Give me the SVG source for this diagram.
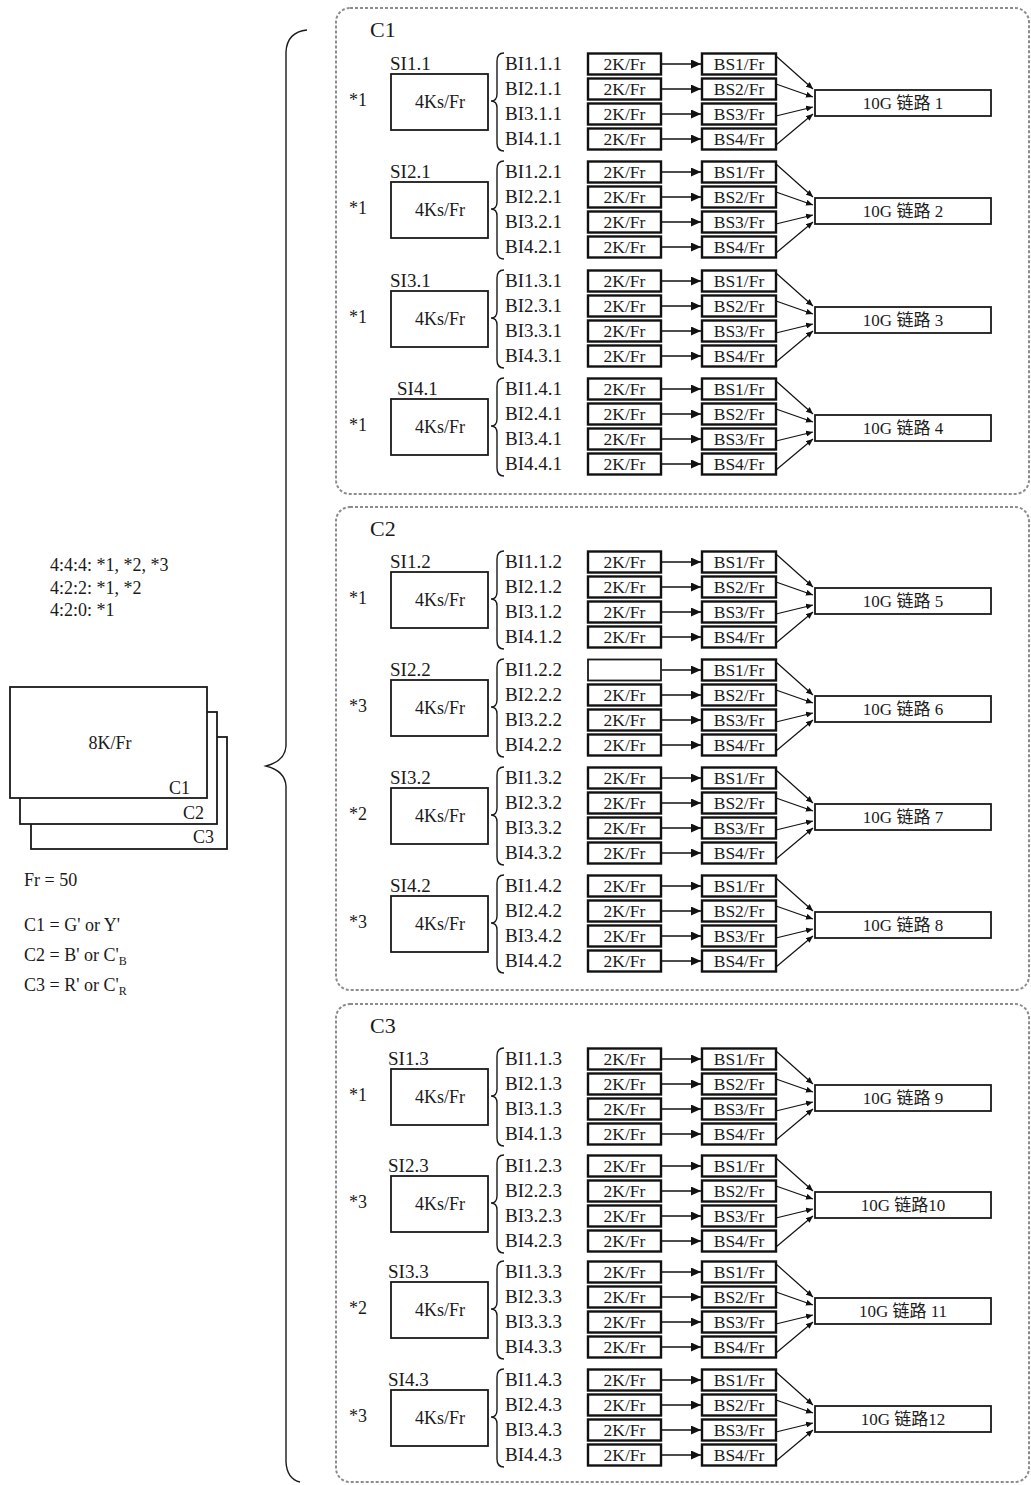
<svg xmlns="http://www.w3.org/2000/svg" xmlns:xlink="http://www.w3.org/1999/xlink" width="1031" height="1485" viewBox="0 0 1031 1485">
<style>
text{font-family:"Liberation Serif","Noto Sans CJK SC",serif;fill:#1a1a1a}
.lb{font-size:19px}
.st{font-size:18px}
.t4{font-size:18px;text-anchor:middle}
.t2{font-size:17.5px;text-anchor:middle}
.tl{font-size:17px;text-anchor:middle}
.ti{font-size:22px}
.bx{fill:#fff;stroke:#1a1a1a;stroke-width:1.8}
.bk{fill:#fff;stroke:#111;stroke-width:2.4}
.br{fill:none;stroke:#1a1a1a;stroke-width:1.4}
.pn{fill:none;stroke:#8c8c8c;stroke-width:2;stroke-dasharray:3 2}
.ar{stroke:#111;stroke-width:1.6;fill:none}
.cv{stroke:#111;stroke-width:1.2;fill:none}
</style>
<defs>
<marker id="ah" markerUnits="userSpaceOnUse" markerWidth="10" markerHeight="9" refX="10" refY="4.5" orient="auto"><path d="M0,0 L10,4.5 L0,9 z" fill="#111"/></marker>
<marker id="as" markerUnits="userSpaceOnUse" markerWidth="7" markerHeight="6" refX="7" refY="3" orient="auto"><path d="M0,0 L7,3 L0,6 z" fill="#111"/></marker>
<g id="conn">
<line class="ar" x1="662" y1="0" x2="701" y2="0" marker-end="url(#ah)"/>
<line class="ar" x1="662" y1="25" x2="701" y2="25" marker-end="url(#ah)"/>
<line class="ar" x1="662" y1="50" x2="701" y2="50" marker-end="url(#ah)"/>
<line class="ar" x1="662" y1="75" x2="701" y2="75" marker-end="url(#ah)"/>
<line class="cv" x1="776" y1="-8" x2="813" y2="25" marker-end="url(#as)"/>
<line class="cv" x1="776" y1="20" x2="813" y2="33" marker-end="url(#as)"/>
<line class="cv" x1="776" y1="52" x2="813" y2="43" marker-end="url(#as)"/>
<line class="cv" x1="776" y1="81" x2="813" y2="50" marker-end="url(#as)"/>
</g>
<path id="rbr" class="br" d="M504,-11 Q497,-11 497,-3 L497,30 Q497,37 491,37 Q497,37 497,44 L497,79 Q497,87 504,87"/>
</defs>
<rect width="1031" height="1485" fill="#fff"/>

<g id="legend">
<text class="st" x="50" y="571">4:4:4: *1, *2, *3</text>
<text class="st" x="50" y="594">4:2:2: *1, *2</text>
<text class="st" x="50" y="616">4:2:0: *1</text>
</g>
<g id="frame-stack">
<rect class="bx" x="31" y="737" width="196" height="112"/>
<rect class="bx" x="20" y="712" width="197" height="112"/>
<rect class="bx" x="10" y="687" width="197" height="111"/>
<text class="st" x="110" y="749" text-anchor="middle">8K/Fr</text>
<text class="st" x="190" y="794" text-anchor="end">C1</text>
<text class="st" x="204" y="819" text-anchor="end">C2</text>
<text class="st" x="214" y="843" text-anchor="end">C3</text>
</g>
<g id="notes">
<text class="st" x="24" y="886">Fr = 50</text>
<text class="st" x="24" y="931">C1 = G' or Y'</text>
<text class="st" x="24" y="961">C2 = B' or C'<tspan font-size="12" dy="4">B</tspan></text>
<text class="st" x="24" y="991">C3 = R' or C'<tspan font-size="12" dy="4">R</tspan></text>
</g>
<path id="big-brace" class="br" d="M307,30 Q287,32 286,52 L286,746 Q285,761 266,766 Q285,771 286,786 L286,1462 Q287,1479 300,1482"/>

<g id="panels">
<rect id="panel-c1" class="pn" x="336" y="8" width="693" height="486" rx="14"/>
<rect id="panel-c2" class="pn" x="336" y="507" width="693" height="483" rx="14"/>
<rect id="panel-c3" class="pn" x="336" y="1004" width="693" height="478" rx="14"/>
<text class="ti" x="370" y="37">C1</text>
<text class="ti" x="370" y="536">C2</text>
<text class="ti" x="370" y="1033">C3</text>
</g>

<g id="connectors">
<use xlink:href="#conn" y="64"/>
<use xlink:href="#conn" y="172"/>
<use xlink:href="#conn" y="281"/>
<use xlink:href="#conn" y="389"/>
<use xlink:href="#conn" y="562"/>
<use xlink:href="#conn" y="670"/>
<use xlink:href="#conn" y="778"/>
<use xlink:href="#conn" y="886"/>
<use xlink:href="#conn" y="1059"/>
<use xlink:href="#conn" y="1166"/>
<use xlink:href="#conn" y="1272"/>
<use xlink:href="#conn" y="1380"/>
</g>

<!-- ROW 1 -->
<g id="row1" transform="translate(0,64)">
<text class="st" x="349" y="42">*1</text>
<g id="si11"><text class="lb" x="390" y="6">SI1.1</text><rect class="bx" x="391" y="10" width="97" height="56"/><text class="t4" x="440" y="44">4Ks/Fr</text></g>
<use xlink:href="#rbr"/>
<text class="lb" x="505" y="6">BI1.1.1</text><text class="lb" x="505" y="31">BI2.1.1</text><text class="lb" x="505" y="56">BI3.1.1</text><text class="lb" x="505" y="81">BI4.1.1</text>
<g id="k1a"><rect class="bk" x="588" y="-10.5" width="73" height="21"/><text class="t2" x="624.5" y="6">2K/Fr</text></g>
<g id="k1b"><rect class="bk" x="588" y="14.5" width="73" height="21"/><text class="t2" x="624.5" y="31">2K/Fr</text></g>
<g id="k1c"><rect class="bk" x="588" y="39.5" width="73" height="21"/><text class="t2" x="624.5" y="56">2K/Fr</text></g>
<g id="k1d"><rect class="bk" x="588" y="64.5" width="73" height="21"/><text class="t2" x="624.5" y="81">2K/Fr</text></g>
<g id="s1a"><rect class="bk" x="702" y="-10.5" width="74" height="21"/><text class="t2" x="739" y="6">BS1/Fr</text></g>
<g id="s1b"><rect class="bk" x="702" y="14.5" width="74" height="21"/><text class="t2" x="739" y="31">BS2/Fr</text></g>
<g id="s1c"><rect class="bk" x="702" y="39.5" width="74" height="21"/><text class="t2" x="739" y="56">BS3/Fr</text></g>
<g id="s1d"><rect class="bk" x="702" y="64.5" width="74" height="21"/><text class="t2" x="739" y="81">BS4/Fr</text></g>
<g id="link1"><rect class="bx" x="815" y="26" width="176" height="26"/><text class="tl" x="903" y="45">10G 链路 1</text></g>
</g>

<!-- ROW 2 -->
<g id="row2" transform="translate(0,172)">
<text class="st" x="349" y="42">*1</text>
<g id="si21"><text class="lb" x="390" y="6">SI2.1</text><rect class="bx" x="391" y="10" width="97" height="56"/><text class="t4" x="440" y="44">4Ks/Fr</text></g>
<use xlink:href="#rbr"/>
<text class="lb" x="505" y="6">BI1.2.1</text><text class="lb" x="505" y="31">BI2.2.1</text><text class="lb" x="505" y="56">BI3.2.1</text><text class="lb" x="505" y="81">BI4.2.1</text>
<g id="k2a"><rect class="bk" x="588" y="-10.5" width="73" height="21"/><text class="t2" x="624.5" y="6">2K/Fr</text></g>
<g id="k2b"><rect class="bk" x="588" y="14.5" width="73" height="21"/><text class="t2" x="624.5" y="31">2K/Fr</text></g>
<g id="k2c"><rect class="bk" x="588" y="39.5" width="73" height="21"/><text class="t2" x="624.5" y="56">2K/Fr</text></g>
<g id="k2d"><rect class="bk" x="588" y="64.5" width="73" height="21"/><text class="t2" x="624.5" y="81">2K/Fr</text></g>
<g id="s2a"><rect class="bk" x="702" y="-10.5" width="74" height="21"/><text class="t2" x="739" y="6">BS1/Fr</text></g>
<g id="s2b"><rect class="bk" x="702" y="14.5" width="74" height="21"/><text class="t2" x="739" y="31">BS2/Fr</text></g>
<g id="s2c"><rect class="bk" x="702" y="39.5" width="74" height="21"/><text class="t2" x="739" y="56">BS3/Fr</text></g>
<g id="s2d"><rect class="bk" x="702" y="64.5" width="74" height="21"/><text class="t2" x="739" y="81">BS4/Fr</text></g>
<g id="link2"><rect class="bx" x="815" y="26" width="176" height="26"/><text class="tl" x="903" y="45">10G 链路 2</text></g>
</g>

<!-- ROW 3 -->
<g id="row3" transform="translate(0,281)">
<text class="st" x="349" y="42">*1</text>
<g id="si31"><text class="lb" x="390" y="6">SI3.1</text><rect class="bx" x="391" y="10" width="97" height="56"/><text class="t4" x="440" y="44">4Ks/Fr</text></g>
<use xlink:href="#rbr"/>
<text class="lb" x="505" y="6">BI1.3.1</text><text class="lb" x="505" y="31">BI2.3.1</text><text class="lb" x="505" y="56">BI3.3.1</text><text class="lb" x="505" y="81">BI4.3.1</text>
<g id="k3a"><rect class="bk" x="588" y="-10.5" width="73" height="21"/><text class="t2" x="624.5" y="6">2K/Fr</text></g>
<g id="k3b"><rect class="bk" x="588" y="14.5" width="73" height="21"/><text class="t2" x="624.5" y="31">2K/Fr</text></g>
<g id="k3c"><rect class="bk" x="588" y="39.5" width="73" height="21"/><text class="t2" x="624.5" y="56">2K/Fr</text></g>
<g id="k3d"><rect class="bk" x="588" y="64.5" width="73" height="21"/><text class="t2" x="624.5" y="81">2K/Fr</text></g>
<g id="s3a"><rect class="bk" x="702" y="-10.5" width="74" height="21"/><text class="t2" x="739" y="6">BS1/Fr</text></g>
<g id="s3b"><rect class="bk" x="702" y="14.5" width="74" height="21"/><text class="t2" x="739" y="31">BS2/Fr</text></g>
<g id="s3c"><rect class="bk" x="702" y="39.5" width="74" height="21"/><text class="t2" x="739" y="56">BS3/Fr</text></g>
<g id="s3d"><rect class="bk" x="702" y="64.5" width="74" height="21"/><text class="t2" x="739" y="81">BS4/Fr</text></g>
<g id="link3"><rect class="bx" x="815" y="26" width="176" height="26"/><text class="tl" x="903" y="45">10G 链路 3</text></g>
</g>

<!-- ROW 4 -->
<g id="row4" transform="translate(0,389)">
<text class="st" x="349" y="42">*1</text>
<g id="si41"><text class="lb" x="397" y="6">SI4.1</text><rect class="bx" x="391" y="10" width="97" height="56"/><text class="t4" x="440" y="44">4Ks/Fr</text></g>
<use xlink:href="#rbr"/>
<text class="lb" x="505" y="6">BI1.4.1</text><text class="lb" x="505" y="31">BI2.4.1</text><text class="lb" x="505" y="56">BI3.4.1</text><text class="lb" x="505" y="81">BI4.4.1</text>
<g id="k4a"><rect class="bk" x="588" y="-10.5" width="73" height="21"/><text class="t2" x="624.5" y="6">2K/Fr</text></g>
<g id="k4b"><rect class="bk" x="588" y="14.5" width="73" height="21"/><text class="t2" x="624.5" y="31">2K/Fr</text></g>
<g id="k4c"><rect class="bk" x="588" y="39.5" width="73" height="21"/><text class="t2" x="624.5" y="56">2K/Fr</text></g>
<g id="k4d"><rect class="bk" x="588" y="64.5" width="73" height="21"/><text class="t2" x="624.5" y="81">2K/Fr</text></g>
<g id="s4a"><rect class="bk" x="702" y="-10.5" width="74" height="21"/><text class="t2" x="739" y="6">BS1/Fr</text></g>
<g id="s4b"><rect class="bk" x="702" y="14.5" width="74" height="21"/><text class="t2" x="739" y="31">BS2/Fr</text></g>
<g id="s4c"><rect class="bk" x="702" y="39.5" width="74" height="21"/><text class="t2" x="739" y="56">BS3/Fr</text></g>
<g id="s4d"><rect class="bk" x="702" y="64.5" width="74" height="21"/><text class="t2" x="739" y="81">BS4/Fr</text></g>
<g id="link4"><rect class="bx" x="815" y="26" width="176" height="26"/><text class="tl" x="903" y="45">10G 链路 4</text></g>
</g>

<!-- ROW 5 -->
<g id="row5" transform="translate(0,562)">
<text class="st" x="349" y="42">*1</text>
<g id="si12"><text class="lb" x="390" y="6">SI1.2</text><rect class="bx" x="391" y="10" width="97" height="56"/><text class="t4" x="440" y="44">4Ks/Fr</text></g>
<use xlink:href="#rbr"/>
<text class="lb" x="505" y="6">BI1.1.2</text><text class="lb" x="505" y="31">BI2.1.2</text><text class="lb" x="505" y="56">BI3.1.2</text><text class="lb" x="505" y="81">BI4.1.2</text>
<g id="k5a"><rect class="bk" x="588" y="-10.5" width="73" height="21"/><text class="t2" x="624.5" y="6">2K/Fr</text></g>
<g id="k5b"><rect class="bk" x="588" y="14.5" width="73" height="21"/><text class="t2" x="624.5" y="31">2K/Fr</text></g>
<g id="k5c"><rect class="bk" x="588" y="39.5" width="73" height="21"/><text class="t2" x="624.5" y="56">2K/Fr</text></g>
<g id="k5d"><rect class="bk" x="588" y="64.5" width="73" height="21"/><text class="t2" x="624.5" y="81">2K/Fr</text></g>
<g id="s5a"><rect class="bk" x="702" y="-10.5" width="74" height="21"/><text class="t2" x="739" y="6">BS1/Fr</text></g>
<g id="s5b"><rect class="bk" x="702" y="14.5" width="74" height="21"/><text class="t2" x="739" y="31">BS2/Fr</text></g>
<g id="s5c"><rect class="bk" x="702" y="39.5" width="74" height="21"/><text class="t2" x="739" y="56">BS3/Fr</text></g>
<g id="s5d"><rect class="bk" x="702" y="64.5" width="74" height="21"/><text class="t2" x="739" y="81">BS4/Fr</text></g>
<g id="link5"><rect class="bx" x="815" y="26" width="176" height="26"/><text class="tl" x="903" y="45">10G 链路 5</text></g>
</g>

<!-- ROW 6 -->
<g id="row6" transform="translate(0,670)">
<text class="st" x="349" y="42">*3</text>
<g id="si22"><text class="lb" x="390" y="6">SI2.2</text><rect class="bx" x="391" y="10" width="97" height="56"/><text class="t4" x="440" y="44">4Ks/Fr</text></g>
<use xlink:href="#rbr"/>
<text class="lb" x="505" y="6">BI1.2.2</text><text class="lb" x="505" y="31">BI2.2.2</text><text class="lb" x="505" y="56">BI3.2.2</text><text class="lb" x="505" y="81">BI4.2.2</text>
<g id="k6a"><rect class="bx" x="588" y="-10.5" width="73" height="21"/></g>
<g id="k6b"><rect class="bk" x="588" y="14.5" width="73" height="21"/><text class="t2" x="624.5" y="31">2K/Fr</text></g>
<g id="k6c"><rect class="bk" x="588" y="39.5" width="73" height="21"/><text class="t2" x="624.5" y="56">2K/Fr</text></g>
<g id="k6d"><rect class="bk" x="588" y="64.5" width="73" height="21"/><text class="t2" x="624.5" y="81">2K/Fr</text></g>
<g id="s6a"><rect class="bk" x="702" y="-10.5" width="74" height="21"/><text class="t2" x="739" y="6">BS1/Fr</text></g>
<g id="s6b"><rect class="bk" x="702" y="14.5" width="74" height="21"/><text class="t2" x="739" y="31">BS2/Fr</text></g>
<g id="s6c"><rect class="bk" x="702" y="39.5" width="74" height="21"/><text class="t2" x="739" y="56">BS3/Fr</text></g>
<g id="s6d"><rect class="bk" x="702" y="64.5" width="74" height="21"/><text class="t2" x="739" y="81">BS4/Fr</text></g>
<g id="link6"><rect class="bx" x="815" y="26" width="176" height="26"/><text class="tl" x="903" y="45">10G 链路 6</text></g>
</g>

<!-- ROW 7 -->
<g id="row7" transform="translate(0,778)">
<text class="st" x="349" y="42">*2</text>
<g id="si32"><text class="lb" x="390" y="6">SI3.2</text><rect class="bx" x="391" y="10" width="97" height="56"/><text class="t4" x="440" y="44">4Ks/Fr</text></g>
<use xlink:href="#rbr"/>
<text class="lb" x="505" y="6">BI1.3.2</text><text class="lb" x="505" y="31">BI2.3.2</text><text class="lb" x="505" y="56">BI3.3.2</text><text class="lb" x="505" y="81">BI4.3.2</text>
<g id="k7a"><rect class="bk" x="588" y="-10.5" width="73" height="21"/><text class="t2" x="624.5" y="6">2K/Fr</text></g>
<g id="k7b"><rect class="bk" x="588" y="14.5" width="73" height="21"/><text class="t2" x="624.5" y="31">2K/Fr</text></g>
<g id="k7c"><rect class="bk" x="588" y="39.5" width="73" height="21"/><text class="t2" x="624.5" y="56">2K/Fr</text></g>
<g id="k7d"><rect class="bk" x="588" y="64.5" width="73" height="21"/><text class="t2" x="624.5" y="81">2K/Fr</text></g>
<g id="s7a"><rect class="bk" x="702" y="-10.5" width="74" height="21"/><text class="t2" x="739" y="6">BS1/Fr</text></g>
<g id="s7b"><rect class="bk" x="702" y="14.5" width="74" height="21"/><text class="t2" x="739" y="31">BS2/Fr</text></g>
<g id="s7c"><rect class="bk" x="702" y="39.5" width="74" height="21"/><text class="t2" x="739" y="56">BS3/Fr</text></g>
<g id="s7d"><rect class="bk" x="702" y="64.5" width="74" height="21"/><text class="t2" x="739" y="81">BS4/Fr</text></g>
<g id="link7"><rect class="bx" x="815" y="26" width="176" height="26"/><text class="tl" x="903" y="45">10G 链路 7</text></g>
</g>

<!-- ROW 8 -->
<g id="row8" transform="translate(0,886)">
<text class="st" x="349" y="42">*3</text>
<g id="si42"><text class="lb" x="390" y="6">SI4.2</text><rect class="bx" x="391" y="10" width="97" height="56"/><text class="t4" x="440" y="44">4Ks/Fr</text></g>
<use xlink:href="#rbr"/>
<text class="lb" x="505" y="6">BI1.4.2</text><text class="lb" x="505" y="31">BI2.4.2</text><text class="lb" x="505" y="56">BI3.4.2</text><text class="lb" x="505" y="81">BI4.4.2</text>
<g id="k8a"><rect class="bk" x="588" y="-10.5" width="73" height="21"/><text class="t2" x="624.5" y="6">2K/Fr</text></g>
<g id="k8b"><rect class="bk" x="588" y="14.5" width="73" height="21"/><text class="t2" x="624.5" y="31">2K/Fr</text></g>
<g id="k8c"><rect class="bk" x="588" y="39.5" width="73" height="21"/><text class="t2" x="624.5" y="56">2K/Fr</text></g>
<g id="k8d"><rect class="bk" x="588" y="64.5" width="73" height="21"/><text class="t2" x="624.5" y="81">2K/Fr</text></g>
<g id="s8a"><rect class="bk" x="702" y="-10.5" width="74" height="21"/><text class="t2" x="739" y="6">BS1/Fr</text></g>
<g id="s8b"><rect class="bk" x="702" y="14.5" width="74" height="21"/><text class="t2" x="739" y="31">BS2/Fr</text></g>
<g id="s8c"><rect class="bk" x="702" y="39.5" width="74" height="21"/><text class="t2" x="739" y="56">BS3/Fr</text></g>
<g id="s8d"><rect class="bk" x="702" y="64.5" width="74" height="21"/><text class="t2" x="739" y="81">BS4/Fr</text></g>
<g id="link8"><rect class="bx" x="815" y="26" width="176" height="26"/><text class="tl" x="903" y="45">10G 链路 8</text></g>
</g>

<!-- ROW 9 -->
<g id="row9" transform="translate(0,1059)">
<text class="st" x="349" y="42">*1</text>
<g id="si13"><text class="lb" x="388" y="6">SI1.3</text><rect class="bx" x="391" y="10" width="97" height="56"/><text class="t4" x="440" y="44">4Ks/Fr</text></g>
<use xlink:href="#rbr"/>
<text class="lb" x="505" y="6">BI1.1.3</text><text class="lb" x="505" y="31">BI2.1.3</text><text class="lb" x="505" y="56">BI3.1.3</text><text class="lb" x="505" y="81">BI4.1.3</text>
<g id="k9a"><rect class="bk" x="588" y="-10.5" width="73" height="21"/><text class="t2" x="624.5" y="6">2K/Fr</text></g>
<g id="k9b"><rect class="bk" x="588" y="14.5" width="73" height="21"/><text class="t2" x="624.5" y="31">2K/Fr</text></g>
<g id="k9c"><rect class="bk" x="588" y="39.5" width="73" height="21"/><text class="t2" x="624.5" y="56">2K/Fr</text></g>
<g id="k9d"><rect class="bk" x="588" y="64.5" width="73" height="21"/><text class="t2" x="624.5" y="81">2K/Fr</text></g>
<g id="s9a"><rect class="bk" x="702" y="-10.5" width="74" height="21"/><text class="t2" x="739" y="6">BS1/Fr</text></g>
<g id="s9b"><rect class="bk" x="702" y="14.5" width="74" height="21"/><text class="t2" x="739" y="31">BS2/Fr</text></g>
<g id="s9c"><rect class="bk" x="702" y="39.5" width="74" height="21"/><text class="t2" x="739" y="56">BS3/Fr</text></g>
<g id="s9d"><rect class="bk" x="702" y="64.5" width="74" height="21"/><text class="t2" x="739" y="81">BS4/Fr</text></g>
<g id="link9"><rect class="bx" x="815" y="26" width="176" height="26"/><text class="tl" x="903" y="45">10G 链路 9</text></g>
</g>

<!-- ROW 10 -->
<g id="row10" transform="translate(0,1166)">
<text class="st" x="349" y="42">*3</text>
<g id="si23"><text class="lb" x="388" y="6">SI2.3</text><rect class="bx" x="391" y="10" width="97" height="56"/><text class="t4" x="440" y="44">4Ks/Fr</text></g>
<use xlink:href="#rbr"/>
<text class="lb" x="505" y="6">BI1.2.3</text><text class="lb" x="505" y="31">BI2.2.3</text><text class="lb" x="505" y="56">BI3.2.3</text><text class="lb" x="505" y="81">BI4.2.3</text>
<g id="k10a"><rect class="bk" x="588" y="-10.5" width="73" height="21"/><text class="t2" x="624.5" y="6">2K/Fr</text></g>
<g id="k10b"><rect class="bk" x="588" y="14.5" width="73" height="21"/><text class="t2" x="624.5" y="31">2K/Fr</text></g>
<g id="k10c"><rect class="bk" x="588" y="39.5" width="73" height="21"/><text class="t2" x="624.5" y="56">2K/Fr</text></g>
<g id="k10d"><rect class="bk" x="588" y="64.5" width="73" height="21"/><text class="t2" x="624.5" y="81">2K/Fr</text></g>
<g id="s10a"><rect class="bk" x="702" y="-10.5" width="74" height="21"/><text class="t2" x="739" y="6">BS1/Fr</text></g>
<g id="s10b"><rect class="bk" x="702" y="14.5" width="74" height="21"/><text class="t2" x="739" y="31">BS2/Fr</text></g>
<g id="s10c"><rect class="bk" x="702" y="39.5" width="74" height="21"/><text class="t2" x="739" y="56">BS3/Fr</text></g>
<g id="s10d"><rect class="bk" x="702" y="64.5" width="74" height="21"/><text class="t2" x="739" y="81">BS4/Fr</text></g>
<g id="link10"><rect class="bx" x="815" y="26" width="176" height="26"/><text class="tl" x="903" y="45">10G 链路10</text></g>
</g>

<!-- ROW 11 -->
<g id="row11" transform="translate(0,1272)">
<text class="st" x="349" y="42">*2</text>
<g id="si33"><text class="lb" x="388" y="6">SI3.3</text><rect class="bx" x="391" y="10" width="97" height="56"/><text class="t4" x="440" y="44">4Ks/Fr</text></g>
<use xlink:href="#rbr"/>
<text class="lb" x="505" y="6">BI1.3.3</text><text class="lb" x="505" y="31">BI2.3.3</text><text class="lb" x="505" y="56">BI3.3.3</text><text class="lb" x="505" y="81">BI4.3.3</text>
<g id="k11a"><rect class="bk" x="588" y="-10.5" width="73" height="21"/><text class="t2" x="624.5" y="6">2K/Fr</text></g>
<g id="k11b"><rect class="bk" x="588" y="14.5" width="73" height="21"/><text class="t2" x="624.5" y="31">2K/Fr</text></g>
<g id="k11c"><rect class="bk" x="588" y="39.5" width="73" height="21"/><text class="t2" x="624.5" y="56">2K/Fr</text></g>
<g id="k11d"><rect class="bk" x="588" y="64.5" width="73" height="21"/><text class="t2" x="624.5" y="81">2K/Fr</text></g>
<g id="s11a"><rect class="bk" x="702" y="-10.5" width="74" height="21"/><text class="t2" x="739" y="6">BS1/Fr</text></g>
<g id="s11b"><rect class="bk" x="702" y="14.5" width="74" height="21"/><text class="t2" x="739" y="31">BS2/Fr</text></g>
<g id="s11c"><rect class="bk" x="702" y="39.5" width="74" height="21"/><text class="t2" x="739" y="56">BS3/Fr</text></g>
<g id="s11d"><rect class="bk" x="702" y="64.5" width="74" height="21"/><text class="t2" x="739" y="81">BS4/Fr</text></g>
<g id="link11"><rect class="bx" x="815" y="26" width="176" height="26"/><text class="tl" x="903" y="45">10G 链路 11</text></g>
</g>

<!-- ROW 12 -->
<g id="row12" transform="translate(0,1380)">
<text class="st" x="349" y="42">*3</text>
<g id="si43"><text class="lb" x="388" y="6">SI4.3</text><rect class="bx" x="391" y="10" width="97" height="56"/><text class="t4" x="440" y="44">4Ks/Fr</text></g>
<use xlink:href="#rbr"/>
<text class="lb" x="505" y="6">BI1.4.3</text><text class="lb" x="505" y="31">BI2.4.3</text><text class="lb" x="505" y="56">BI3.4.3</text><text class="lb" x="505" y="81">BI4.4.3</text>
<g id="k12a"><rect class="bk" x="588" y="-10.5" width="73" height="21"/><text class="t2" x="624.5" y="6">2K/Fr</text></g>
<g id="k12b"><rect class="bk" x="588" y="14.5" width="73" height="21"/><text class="t2" x="624.5" y="31">2K/Fr</text></g>
<g id="k12c"><rect class="bk" x="588" y="39.5" width="73" height="21"/><text class="t2" x="624.5" y="56">2K/Fr</text></g>
<g id="k12d"><rect class="bk" x="588" y="64.5" width="73" height="21"/><text class="t2" x="624.5" y="81">2K/Fr</text></g>
<g id="s12a"><rect class="bk" x="702" y="-10.5" width="74" height="21"/><text class="t2" x="739" y="6">BS1/Fr</text></g>
<g id="s12b"><rect class="bk" x="702" y="14.5" width="74" height="21"/><text class="t2" x="739" y="31">BS2/Fr</text></g>
<g id="s12c"><rect class="bk" x="702" y="39.5" width="74" height="21"/><text class="t2" x="739" y="56">BS3/Fr</text></g>
<g id="s12d"><rect class="bk" x="702" y="64.5" width="74" height="21"/><text class="t2" x="739" y="81">BS4/Fr</text></g>
<g id="link12"><rect class="bx" x="815" y="26" width="176" height="26"/><text class="tl" x="903" y="45">10G 链路12</text></g>
</g>
</svg>
